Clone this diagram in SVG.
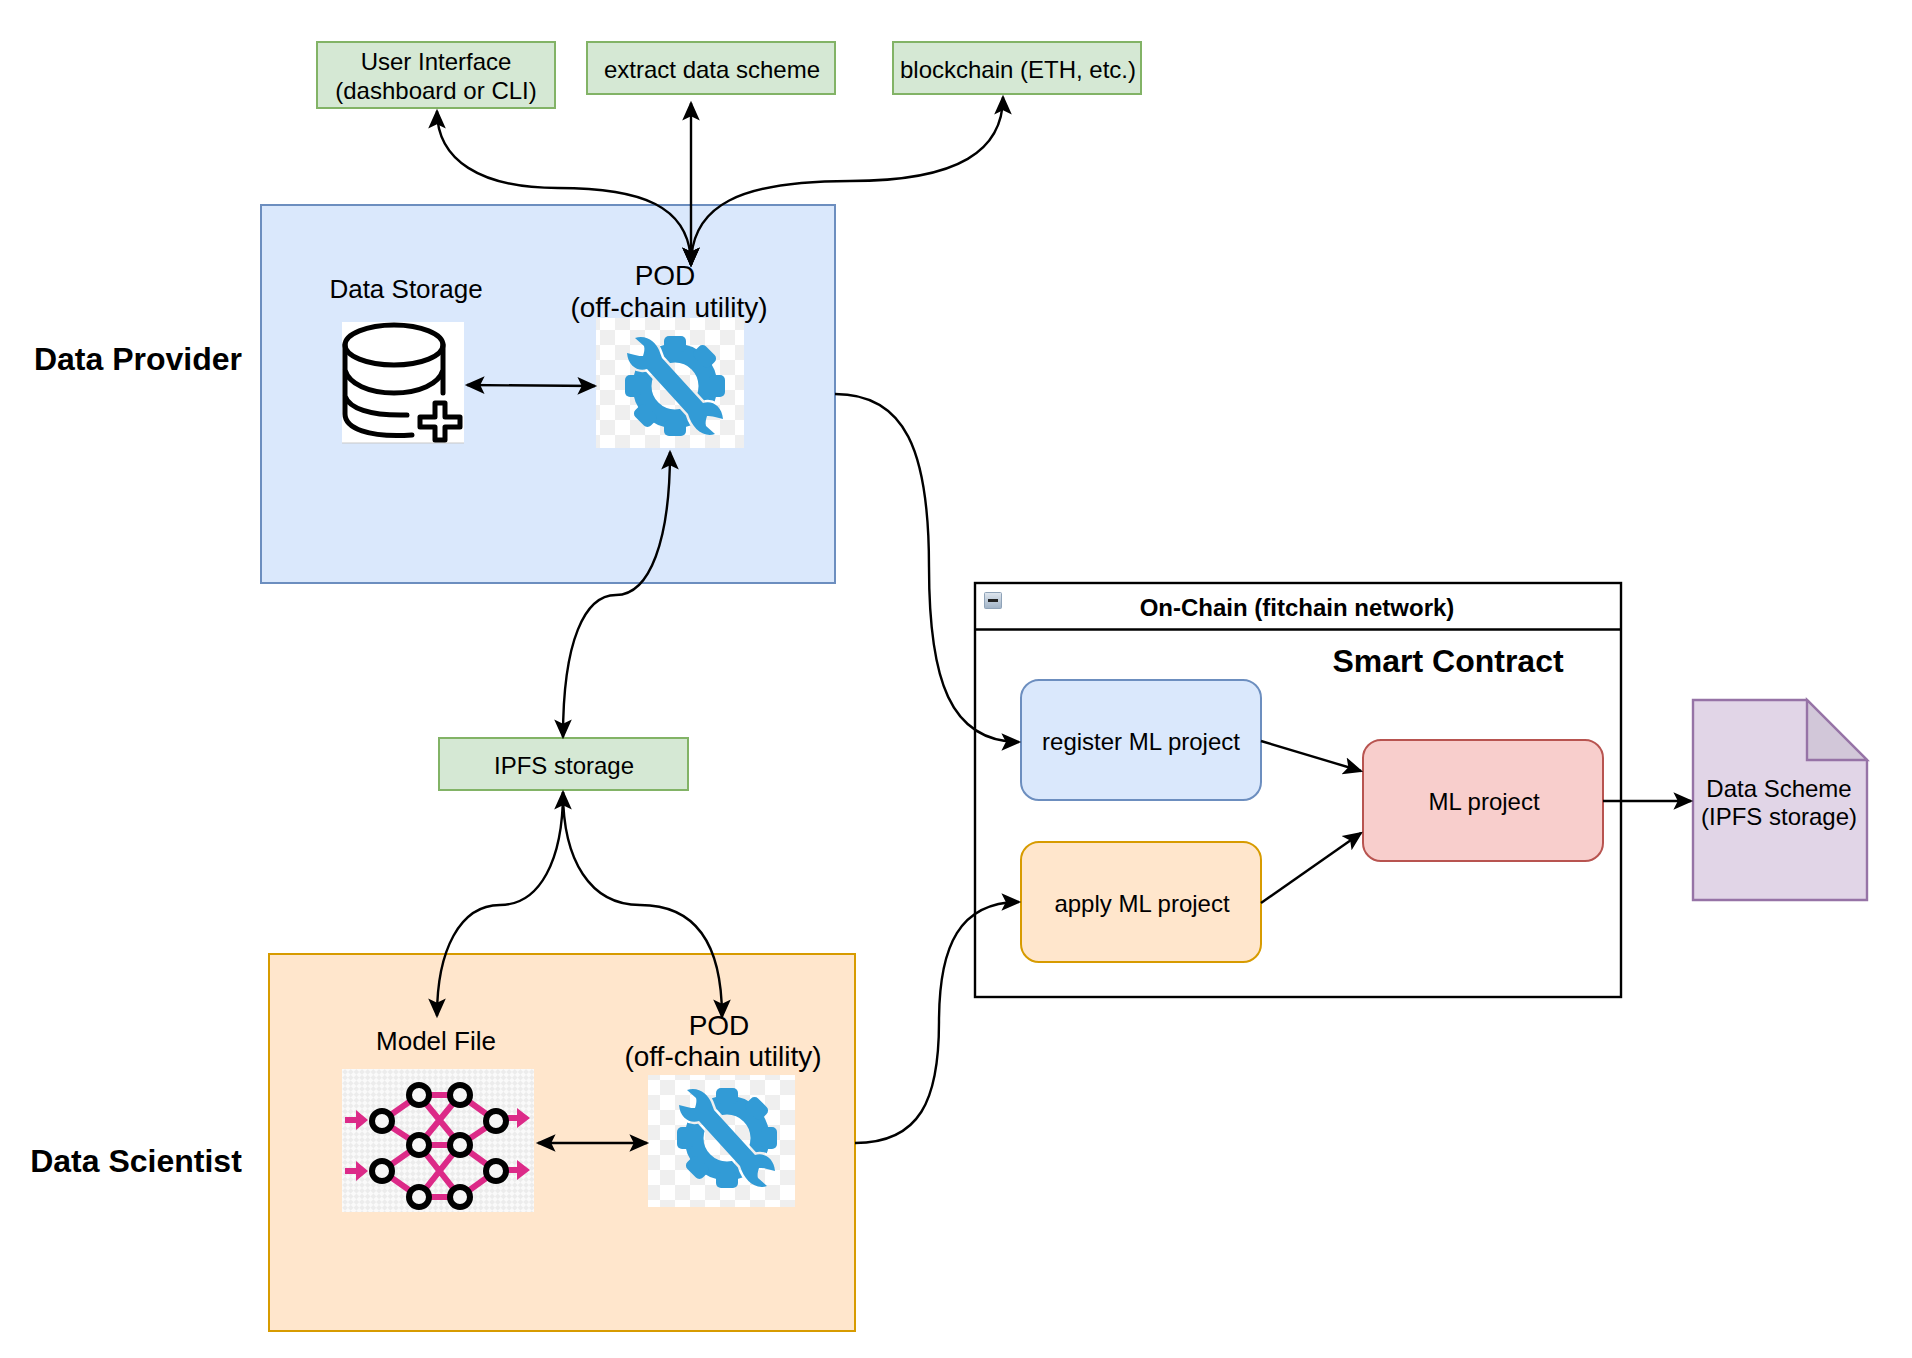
<svg xmlns="http://www.w3.org/2000/svg" width="1912" height="1358" viewBox="0 0 1912 1358">
<style>
text{font-family:"Liberation Sans",Arial,sans-serif;fill:#000;text-anchor:middle}
.t{font-size:24px}.l{font-size:26px}.b{font-weight:bold;font-size:32px}.p{font-size:28px}
.green{fill:#d5e8d4;stroke:#82b366;stroke-width:2}
.c{fill:none;stroke:#000;stroke-width:2.4}
.both{marker-start:url(#a);marker-end:url(#a)}.end{marker-end:url(#a)}
.blue{fill:#dae8fc;stroke:#6c8ebf;stroke-width:2}
.orange{fill:#ffe6cc;stroke:#d79b00;stroke-width:2}
.db{fill:none;stroke:#000;stroke-width:5;stroke-linecap:round;stroke-linejoin:round}
.e{stroke:#dc2a88;stroke-width:6;fill:none}
.n{fill:#f6f6f6;stroke:#000;stroke-width:6}
</style>
<defs>
<marker id="a" markerUnits="userSpaceOnUse" markerWidth="22" markerHeight="20" viewBox="0 0 20 18" refX="16" refY="9" orient="auto-start-reverse"><path d="M18 9L0 1L4 9L0 17Z" fill="#000"/></marker>
<pattern id="chk" width="30" height="30" patternUnits="userSpaceOnUse"><rect width="30" height="30" fill="#fff"/><rect width="15" height="15" fill="#efefef"/><rect x="15" y="15" width="15" height="15" fill="#efefef"/></pattern>
<pattern id="fine" width="8" height="8" patternUnits="userSpaceOnUse" patternTransform="rotate(45)"><rect width="8" height="8" fill="#fafafa"/><rect width="4" height="4" fill="#ececec"/><rect x="4" y="4" width="4" height="4" fill="#ececec"/></pattern>
<linearGradient id="mg" x1="0" y1="0" x2="0" y2="1"><stop offset="0" stop-color="#dfe6ee"/><stop offset="1" stop-color="#9fb2c6"/></linearGradient>
<path id="w2" d="M-40-48C-28-52-19-43-16-36L-13-28L28 17C37 14 47 20 48 33L40 31C37 30 34 30 32 30C31 33 30 37 31 40L40 48C28 52 17 42 13 28L-28-17C-37-14-47-20-48-33L-40-31C-37-30-34-30-32-30C-31-33-30-37-31-40Z"/>
<mask id="gm" maskUnits="userSpaceOnUse" x="-60" y="-60" width="120" height="120"><rect x="-60" y="-60" width="120" height="120" fill="#fff"/><use href="#w2" fill="#000" stroke="#000" stroke-width="5"/></mask>
<g id="tool"><g fill="#329bd6"><g mask="url(#gm)"><circle r="33" fill="none" stroke="#329bd6" stroke-width="19"/><rect x="-11" y="-50" width="22" height="16" rx="5"/><rect x="-11" y="34" width="22" height="16" rx="5"/><rect x="34" y="-11" width="16" height="22" rx="5"/><rect x="-50" y="-11" width="16" height="22" rx="5"/><rect x="-11" y="-50" width="22" height="16" rx="5" transform="rotate(45)"/><rect x="-11" y="34" width="22" height="16" rx="5" transform="rotate(45)"/></g><use href="#w2"/></g></g>
</defs>
<rect width="1912" height="1358" fill="#fff"/>

<g id="ui"><rect class="green" x="317" y="42" width="238" height="66"/><text class="t" x="436" y="70">User Interface</text><text class="t" x="436" y="99">(dashboard or CLI)</text></g>
<g id="extract"><rect class="green" x="587" y="42" width="248" height="52"/><text class="t" x="712" y="78">extract data scheme</text></g>
<g id="chain"><rect class="green" x="893" y="42" width="248" height="52"/><text class="t" x="1018" y="78">blockchain (ETH, etc.)</text></g>

<g id="provider"><rect class="blue" x="261" y="205" width="574" height="378"/></g>
<text id="provider-label" class="b" x="138" y="370">Data Provider</text>
<g id="storage"><text class="l" x="406" y="298">Data Storage</text><rect x="342" y="322" width="122" height="121" fill="#fff"/><path d="M342 443H464" stroke="#c8c8c8"/>
<ellipse class="db" cx="394" cy="345" rx="49" ry="20"/><path class="db" d="M345 345V414C345 428 368 438 412 435M345 370C349 384 369 393 394 393C419 393 439 384 443 370M443 345V393M345 396C349 408 369 416 407 415"/><path class="db" d="M435 403H445V417H460V427H445V440H435V427H420V417H435Z"/></g>
<g id="pod1"><text class="p" x="665" y="285">POD</text><text class="p" x="669" y="317">(off-chain utility)</text><rect x="596" y="318" width="148" height="130" fill="url(#chk)"/><use href="#tool" transform="translate(675,386)"/></g>

<g id="scientist"><rect class="orange" x="269" y="954" width="586" height="377"/></g>
<text id="scientist-label" class="b" x="136" y="1172">Data Scientist</text>
<g id="model"><text class="l" x="436" y="1050">Model File</text><rect x="342" y="1069" width="192" height="143" fill="url(#fine)"/>
<path class="e" d="M382 1121L419 1095H460L496 1121L460 1145L496 1171L460 1197H419L382 1171L419 1145L382 1121M419 1145H460M419 1095L460 1145L419 1197M460 1095L419 1145L460 1197"/>
<g fill="#dc2a88"><path d="M345 1117H356V1110L368 1120L356 1130V1123H345Z"/><path d="M345 1168H356V1161L368 1171L356 1181V1174H345Z"/><path d="M508 1115H517V1108L530 1118L517 1128V1121H508Z"/><path d="M508 1167H517V1160L530 1170L517 1180V1173H508Z"/></g>
<circle class="n" cx="382" cy="1121" r="10"/><circle class="n" cx="382" cy="1171" r="10"/><circle class="n" cx="419" cy="1095" r="10"/><circle class="n" cx="460" cy="1095" r="10"/><circle class="n" cx="419" cy="1145" r="10"/><circle class="n" cx="460" cy="1145" r="10"/><circle class="n" cx="419" cy="1197" r="10"/><circle class="n" cx="460" cy="1197" r="10"/><circle class="n" cx="496" cy="1121" r="10"/><circle class="n" cx="496" cy="1171" r="10"/></g>
<g id="pod2"><text class="p" x="719" y="1035">POD</text><text class="p" x="723" y="1066">(off-chain utility)</text><rect x="648" y="1075" width="147" height="132" fill="url(#chk)"/><use href="#tool" transform="translate(727,1138)"/></g>

<g id="ipfs"><rect class="green" x="439" y="738" width="249" height="52"/><text class="t" x="564" y="774">IPFS storage</text></g>

<g id="onchain"><rect x="975" y="583" width="646" height="414" fill="#fff" stroke="#000" stroke-width="2.4"/><path d="M975 629.500H1621" stroke="#000" stroke-width="2.4"/><rect x="984.500" y="592.500" width="17" height="16" rx="1" fill="url(#mg)" stroke="#8fa3b8"/><rect x="988" y="599" width="10" height="3" fill="#222"/><text x="1297" y="616" font-size="24" font-weight="bold">On-Chain (fitchain network)</text><text x="1448" y="672" font-size="32" font-weight="bold">Smart Contract</text></g>
<g id="register"><rect class="blue" x="1021" y="680" width="240" height="120" rx="18"/><text class="t" x="1141" y="750">register ML project</text></g>
<g id="apply"><rect class="orange" x="1021" y="842" width="240" height="120" rx="18"/><text class="t" x="1142" y="912">apply ML project</text></g>
<g id="mlproject"><rect x="1363" y="740" width="240" height="121" rx="18" fill="#f8cecc" stroke="#b85450" stroke-width="2"/><text class="t" x="1484" y="810">ML project</text></g>
<g id="doc"><path d="M1693 700H1807L1867 760V900H1693Z" fill="#e1d5e7" stroke="#9673a6" stroke-width="2.400"/><path d="M1807 700L1867 760H1807Z" fill="#d2c7d9" stroke="#9673a6" stroke-width="2.400"/><text class="t" x="1779" y="797">Data Scheme</text><text class="t" x="1779" y="825">(IPFS storage)</text></g>

<g id="connectors">
<path class="c both" d="M437 111C437 160 480 188 558 188C640 188 691 205 691 265"/>
<path class="c both" d="M691 103V265"/>
<path class="c both" d="M691 265C691 205 740 181 850 181C960 181 1003 150 1003 97"/>
<path class="c both" d="M467 385L595 386"/>
<path class="c end" d="M835 394C905 394 929 450 929 567C929 680 950 742 1019 742"/>
<path class="c both" d="M670 452C670 540 650 595 616 595C585 595 563 640 563 737"/>
<path class="c both" d="M563 792C563 860 540 905 500 905C460 905 437 950 437 1016"/>
<path class="c end" d="M563 792C563 860 590 905 640 905C700 905 722 950 722 1017"/>
<path class="c both" d="M538 1143H647"/>
<path class="c end" d="M855 1143C920 1143 939 1100 939 1022C939 945 960 902 1019 902"/>
<path class="c end" d="M1261 741L1361 771"/>
<path class="c end" d="M1261 903L1361 833"/>
<path class="c end" d="M1603 801H1691"/>
</g>
</svg>
